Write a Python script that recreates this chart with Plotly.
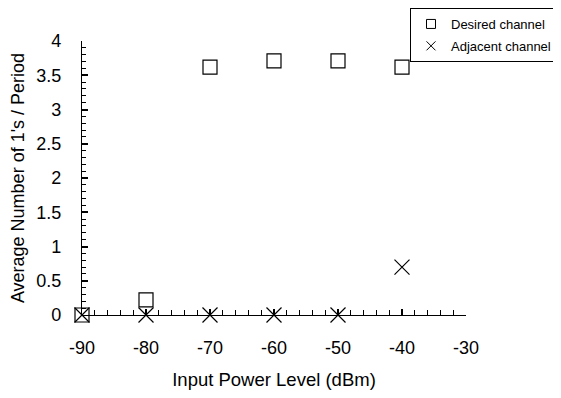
import plotly.graph_objects as go

input_power = [-90, -80, -70, -60, -50, -40]
desired = [0, 0.22, 3.62, 3.71, 3.71, 3.62]
adjacent = [0, 0, 0, 0, 0, 0.70]
x_ticks = [-90, -80, -70, -60, -50, -40, -30]
y_ticks = [0, 0.5, 1, 1.5, 2, 2.5, 3, 3.5, 4]
y_tick_text = ["0", "0.5", "1", "1.5", "2", "2.5", "3", "3.5", "4"]
series_names = ["Desired channel", "Adjacent channel"]

FONT = "Liberation Sans, Arial, sans-serif"
SYMBOLS = ["square-open", "x-thin-open"]

fig = go.Figure()
for name, vals, sym, size in zip(series_names, [desired, adjacent], SYMBOLS, [14, 15]):
    fig.add_trace(go.Scatter(
        x=input_power, y=vals, mode="markers", name=name, showlegend=False,
        marker=dict(symbol=sym, size=size, color="black", line=dict(width=1.2, color="black")),
        cliponaxis=False,
    ))
# legend entries with the smaller symbols used in the reference legend
for i, (name, sym) in enumerate(zip(series_names, SYMBOLS)):
    fig.add_trace(go.Scatter(
        x=[None], y=[None], mode="markers", name=name, legendgroup=f"g{i}",
        marker=dict(symbol=sym, size=9, color="black", line=dict(width=1, color="black")),
    ))

fig.update_layout(
    width=561, height=398,
    margin=dict(l=74, r=103, t=33, b=91, autoexpand=False),
    paper_bgcolor="white", plot_bgcolor="white",
    font=dict(family=FONT, size=18, color="black"),
    showlegend=True,
    legend=dict(
        xref="container", yref="container",
        x=402 / 561, y=1.0, xanchor="left", yanchor="top",
        bgcolor="white", bordercolor="black", borderwidth=1,
        font=dict(family=FONT, size=13, color="black"),
        itemwidth=30, tracegroupgap=2,
    ),
)
fig.update_xaxes(
    range=[-90, -30], tickvals=x_ticks, ticktext=[str(v) for v in x_ticks],
    showline=True, linecolor="black", linewidth=1.2, automargin=False,
    ticks="inside", ticklen=6, tickcolor="black", tickwidth=1.5,
    minor=dict(dtick=2, ticks="inside", ticklen=5, tickcolor="black", tickwidth=1),
    showgrid=False, zeroline=False,
    ticklabelstandoff=16,
    title=dict(text="Input Power Level (dBm)", standoff=16, font=dict(size=18.5)),
    tickfont=dict(size=18),
)
fig.update_yaxes(
    range=[0, 4], tickvals=y_ticks, ticktext=y_tick_text,
    showline=True, linecolor="black", linewidth=1.2, automargin=False,
    ticks="inside", ticklen=6, tickcolor="black", tickwidth=1.5,
    minor=dict(dtick=0.1, ticks="inside", ticklen=4, tickcolor="black", tickwidth=1),
    showgrid=False, zeroline=False,
    ticklabelstandoff=16,
    title=dict(text="Average Number of 1's / Period", standoff=8, font=dict(size=18)),
    tickfont=dict(size=18),
)

fig.write_html("out.html")
